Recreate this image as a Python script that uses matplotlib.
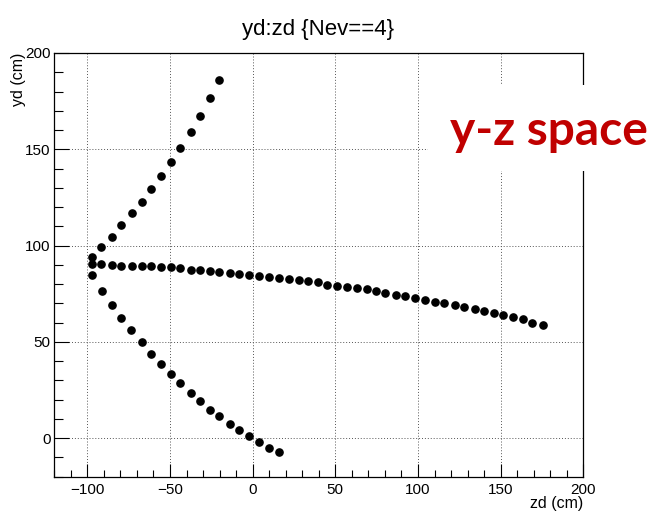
import matplotlib
matplotlib.use("Agg")
import matplotlib.pyplot as plt
from matplotlib.patches import Rectangle
from matplotlib.ticker import MultipleLocator

# ---- data (zd, yd in cm) ----
upper_z = [-20.2, -26.1, -31.8, -37.6, -43.7, -49.6, -55.3, -61.5, -67.2, -73.1, -79.4, -85.2, -91.5, -97.2]
upper_y = [186.1, 176.5, 167.3, 158.8, 150.7, 143.3, 136.1, 129.2, 122.8, 116.9, 110.5, 104.6, 99.3, 94.2]

middle_z = [-97.2, -91.5, -85.2, -79.4, -73.1, -67.2, -61.5, -55.3, -49.6, -43.7, -37.6, -31.8, -26.1, -20.2,
            -14.0, -8.3, -2.0, 3.7, 9.6, 15.9, 21.8, 28.0, 33.7, 39.5, 45.2, 51.3, 57.1, 63.0, 69.0, 74.6,
            80.3, 86.6, 92.2, 98.1, 104.1, 110.0, 115.6, 122.1, 127.9, 134.2, 139.8, 145.7, 151.3, 157.6,
            163.3, 169.1, 175.4]
middle_y = [90.3, 90.3, 89.9, 89.6, 89.6, 89.3, 89.3, 88.7, 88.7, 88.2, 87.5, 87.5, 86.8, 86.3,
            85.8, 85.3, 84.8, 84.2, 83.7, 83.2, 82.5, 82.0, 81.5, 80.9, 79.7, 79.2, 78.7, 77.8, 77.3, 76.3,
            75.4, 74.5, 74.0, 72.9, 71.9, 70.7, 70.2, 69.2, 68.1, 67.2, 66.0, 64.8, 63.8, 62.9,
            61.9, 60.0, 58.9]

lower_z = [-97.2, -90.9, -85.2, -79.4, -73.5, -67.2, -61.5, -55.3, -49.6, -43.7, -37.6, -31.8, -26.1,
           -20.2, -14.0, -8.3, -2.0, 3.7, 9.6, 15.7]
lower_y = [84.9, 76.6, 69.2, 62.3, 56.2, 49.8, 43.9, 38.5, 33.2, 28.5, 23.6, 19.3, 14.8,
           11.4, 7.5, 4.3, 1.1, -2.1, -5.2, -7.3]

title = "yd:zd {Nev==4}"
xlabel = "zd (cm)"
ylabel = "yd (cm)"
overlay = "y-z space"

plt.rcParams['font.family'] = ['Liberation Sans', 'DejaVu Sans']

W, H = 652, 518
fig = plt.figure(figsize=(W / 100, H / 100), dpi=100)
ax = fig.add_axes([54.3 / W, 1 - 476.7 / H, (583.3 - 54.3) / W, (476.7 - 53.0) / H])

for zs, ys in ((upper_z, upper_y), (middle_z, middle_y), (lower_z, lower_y)):
    ax.plot(zs, ys, linestyle='none', marker='o', markersize=5.2, color='black', zorder=3)

ax.set_xlim(-120, 200)
ax.set_ylim(-20, 200)
ax.xaxis.set_major_locator(MultipleLocator(50))
ax.xaxis.set_minor_locator(MultipleLocator(10))
ax.yaxis.set_major_locator(MultipleLocator(50))
ax.yaxis.set_minor_locator(MultipleLocator(10))

ax.tick_params(axis='x', which='major', direction='in', length=9.5, width=0.8, labelsize=11, pad=4.5, top=False)
ax.tick_params(axis='x', which='minor', direction='in', length=4.8, width=0.8, top=False)
ax.tick_params(axis='y', which='major', direction='in', length=11, width=0.8, labelsize=11, pad=2.5, right=False)
ax.tick_params(axis='y', which='minor', direction='in', length=6.5, width=0.8, right=False)

ax.grid(True, which='major', linestyle=(0, (1, 2)), color='#555555', linewidth=0.7)
for s in ax.spines.values():
    s.set_linewidth(0.9)
    s.set_color('black')

fig.text(318 / W, 1 - 29 / H, title, ha='center', va='center', fontsize=16)
fig.text(583 / W, 1 - 496 / H, xlabel, ha='right', va='top', fontsize=11.5)
fig.text(18 / W, 1 - 53 / H, ylabel, ha='center', va='top', rotation=90, fontsize=11.5)

# white overlay box with red label
fig.add_artist(Rectangle((428 / W, 1 - 171 / H), (W - 428) / W, 86 / H,
                         transform=fig.transFigure, facecolor='white', edgecolor='none', zorder=5))
fig.text(450 / W, 1 - 145 / H, overlay, ha='left', va='baseline', fontsize=34.5,
         fontweight='bold', color='#C00000', family=['Lato', 'DejaVu Sans'], zorder=6)

fig.savefig("out.png", dpi=100)
